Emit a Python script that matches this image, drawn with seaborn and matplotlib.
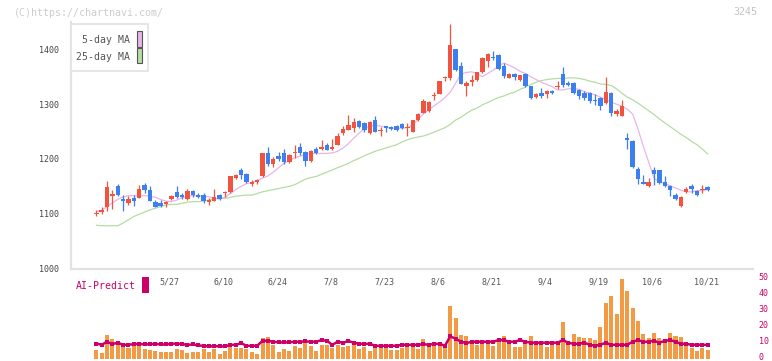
import matplotlib
matplotlib.use("Agg")
import matplotlib.pyplot as plt
import matplotlib.transforms as mtransforms
from matplotlib.patches import Rectangle
import numpy as np
import pandas as pd
import seaborn as sns

# trading days (Tokyo), 2025-05-07 .. 2025-10-21
holidays = ["2025-07-21", "2025-08-11", "2025-09-15", "2025-09-23", "2025-10-13"]
dates = pd.bdate_range("2025-05-07", "2025-10-21")
dates = dates[~dates.isin(pd.to_datetime(holidays))]

opens = [1100, 1104, 1112, 1133, 1151, 1127, 1119, 1128, 1129, 1152,
         1144, 1121, 1120, 1117, 1126, 1139, 1135, 1126, 1142, 1135,
         1135, 1121, 1123, 1135, 1137, 1139, 1165, 1179, 1173, 1155,
         1158, 1169, 1211, 1190, 1205, 1210, 1195, 1211, 1221, 1212,
         1196, 1219, 1219, 1226, 1219, 1226, 1248, 1253, 1257, 1270,
         1266, 1247, 1271, 1251, 1260, 1259, 1260, 1264, 1256, 1250,
         1271, 1284, 1287, 1315, 1319, 1347, 1347, 1400, 1370, 1333,
         1340, 1344, 1358, 1379, 1386, 1390, 1370, 1348, 1355, 1345,
         1355, 1333, 1313, 1320, 1319, 1324, 1332, 1355, 1339, 1339,
         1326, 1320, 1320, 1308, 1312, 1303, 1321, 1282, 1279, 1238,
         1233, 1182, 1157, 1150, 1180, 1179, 1157, 1151, 1135, 1114,
         1139, 1151, 1142, 1143, 1148]
highs = [1107, 1113, 1160, 1144, 1154, 1135, 1132, 1135, 1153, 1156,
         1151, 1125, 1125, 1124, 1135, 1150, 1137, 1146, 1144, 1138,
         1137, 1128, 1146, 1136, 1142, 1169, 1173, 1184, 1175, 1162,
         1164, 1211, 1221, 1204, 1212, 1219, 1209, 1226, 1230, 1215,
         1216, 1222, 1235, 1230, 1236, 1247, 1261, 1280, 1275, 1271,
         1268, 1269, 1279, 1258, 1261, 1261, 1262, 1265, 1265, 1272,
         1283, 1310, 1306, 1322, 1343, 1351, 1446, 1401, 1377, 1342,
         1353, 1359, 1386, 1394, 1397, 1391, 1376, 1357, 1357, 1354,
         1356, 1334, 1320, 1329, 1325, 1326, 1342, 1368, 1343, 1340,
         1327, 1324, 1322, 1318, 1313, 1350, 1322, 1291, 1308, 1248,
         1234, 1185, 1171, 1165, 1185, 1180, 1169, 1152, 1137, 1133,
         1148, 1154, 1143, 1153, 1150]
lows = [1096, 1099, 1105, 1108, 1132, 1105, 1116, 1114, 1129, 1138,
        1124, 1112, 1113, 1112, 1125, 1128, 1126, 1125, 1131, 1129,
        1119, 1116, 1123, 1125, 1131, 1137, 1163, 1163, 1156, 1150,
        1155, 1167, 1188, 1186, 1197, 1191, 1193, 1202, 1208, 1187,
        1195, 1209, 1217, 1217, 1217, 1226, 1243, 1252, 1250, 1256,
        1250, 1246, 1249, 1241, 1250, 1253, 1251, 1254, 1241, 1249,
        1270, 1283, 1285, 1308, 1318, 1342, 1345, 1360, 1336, 1315,
        1333, 1343, 1356, 1367, 1380, 1362, 1347, 1347, 1345, 1343,
        1332, 1310, 1311, 1312, 1312, 1319, 1328, 1332, 1333, 1318,
        1310, 1308, 1302, 1299, 1290, 1300, 1279, 1279, 1279, 1219,
        1183, 1155, 1154, 1149, 1153, 1155, 1149, 1132, 1125, 1112,
        1137, 1137, 1132, 1138, 1141]
closes = [1101, 1106, 1148, 1136, 1135, 1124, 1127, 1123, 1146, 1143,
          1124, 1113, 1115, 1122, 1133, 1130, 1131, 1142, 1135, 1131,
          1124, 1125, 1131, 1126, 1140, 1168, 1171, 1170, 1157, 1158,
          1162, 1210, 1190, 1200, 1200, 1195, 1208, 1213, 1210, 1196,
          1214, 1210, 1221, 1217, 1221, 1241, 1255, 1262, 1268, 1258,
          1253, 1268, 1250, 1253, 1256, 1255, 1252, 1256, 1258, 1271,
          1282, 1306, 1304, 1317, 1342, 1349, 1408, 1362, 1337, 1339,
          1344, 1358, 1385, 1391, 1384, 1364, 1351, 1355, 1349, 1353,
          1333, 1312, 1319, 1315, 1324, 1321, 1334, 1335, 1335, 1320,
          1314, 1311, 1306, 1306, 1296, 1323, 1283, 1288, 1297, 1235,
          1185, 1163, 1155, 1157, 1173, 1156, 1151, 1143, 1126, 1131,
          1146, 1146, 1135, 1146, 1143]
ma5 = [1104, 1106, 1113, 1120, 1126, 1131, 1133, 1133, 1132, 1133,
       1132, 1130, 1126, 1123, 1122, 1125, 1129, 1132, 1133, 1133,
       1132, 1131, 1128, 1127, 1130, 1137, 1144, 1150, 1155, 1157,
       1160, 1165, 1169, 1176, 1184, 1192, 1197, 1202, 1205, 1208,
       1210, 1210, 1210, 1210, 1211, 1214, 1220, 1228, 1238, 1247,
       1255, 1260, 1261, 1260, 1258, 1256, 1256, 1256, 1257, 1262,
       1272, 1282, 1290, 1297, 1304, 1312, 1322, 1338, 1355, 1358,
       1359, 1356, 1350, 1356, 1362, 1370, 1375, 1371, 1366, 1360,
       1356, 1350, 1345, 1340, 1336, 1332, 1326, 1326, 1328, 1329,
       1327, 1323, 1320, 1317, 1313, 1308, 1304, 1300, 1296, 1291,
       1282, 1255, 1223, 1194, 1165, 1158, 1155, 1151, 1147, 1143,
       1140, 1140, 1142, 1142, 1144]
ma25 = [1079, 1078, 1078, 1078, 1078, 1083, 1089, 1095, 1099, 1103,
        1107, 1110, 1113, 1116, 1117, 1117, 1119, 1121, 1122, 1122,
        1123, 1125, 1127, 1128, 1128, 1130, 1132, 1133, 1134, 1134,
        1137, 1140, 1142, 1144, 1146, 1148, 1150, 1153, 1158, 1163,
        1166, 1168, 1172, 1176, 1180, 1184, 1188, 1192, 1197, 1201,
        1206, 1210, 1214, 1217, 1220, 1223, 1226, 1231, 1235, 1238,
        1240, 1242, 1245, 1249, 1253, 1257, 1263, 1271, 1276, 1283,
        1289, 1293, 1299, 1303, 1308, 1312, 1315, 1319, 1322, 1327,
        1331, 1336, 1340, 1343, 1345, 1346, 1347, 1347, 1348, 1348,
        1347, 1345, 1342, 1340, 1337, 1336, 1334, 1328, 1320, 1313,
        1308, 1302, 1295, 1288, 1281, 1273, 1266, 1259, 1252, 1245,
        1239, 1232, 1226, 1218, 1209]
volume = [5.7, 4.0, 15.1, 12.6, 8.8, 10.1, 7.1, 8.8, 8.2, 6.3,
          5.5, 5.0, 4.4, 4.4, 4.4, 6.3, 5.7, 4.0, 4.4, 4.4,
          6.3, 4.4, 6.3, 3.1, 5.0, 10.1, 6.9, 6.9, 6.3, 4.4,
          3.1, 13.2, 13.8, 8.8, 4.4, 6.3, 5.0, 8.2, 6.9, 10.1,
          8.2, 5.0, 8.8, 8.8, 7.1, 8.8, 7.5, 8.2, 10.3, 6.3,
          7.5, 5.0, 8.8, 7.5, 6.9, 5.7, 5.7, 7.1, 7.5, 8.8,
          6.3, 12.6, 8.8, 8.2, 8.2, 7.5, 32.7, 25.2, 15.1, 14.5,
          10.3, 8.8, 11.9, 10.7, 8.2, 11.3, 14.5, 10.1, 7.5, 7.5,
          11.3, 14.5, 10.1, 10.1, 7.5, 8.8, 10.3, 22.8, 8.8, 15.7,
          13.8, 13.2, 13.2, 11.9, 20.1, 35.0, 39.0, 27.9, 49.7, 42.1,
          31.4, 23.3, 15.7, 13.2, 16.4, 13.2, 11.3, 16.4, 14.5, 13.8,
          10.1, 6.9, 5.0, 6.9, 5.7]
ai_predict = [9.6, 8.8, 10.7, 9.2, 10.1, 8.8, 8.8, 9.2, 9.4, 9.0,
              9.2, 9.4, 9.0, 9.0, 9.4, 9.6, 9.2, 8.8, 9.0, 8.4,
              8.2, 7.8, 8.0, 7.8, 7.8, 8.8, 8.8, 9.8, 8.2, 8.2,
              8.2, 11.3, 11.3, 10.7, 10.3, 10.3, 10.3, 10.7, 10.7, 10.9,
              10.7, 10.7, 11.7, 11.3, 8.8, 10.7, 10.1, 11.1, 10.1, 9.4,
              9.4, 9.4, 8.2, 8.2, 8.2, 8.2, 8.2, 8.8, 8.8, 8.8,
              8.8, 9.2, 8.8, 9.4, 9.4, 8.2, 14.0, 12.6, 10.7, 9.8,
              10.7, 10.7, 10.7, 10.7, 10.7, 11.7, 11.7, 10.7, 10.7, 11.7,
              10.7, 10.1, 10.1, 10.1, 10.1, 10.1, 10.1, 11.7, 10.1, 9.4,
              9.4, 10.1, 8.8, 8.2, 8.8, 10.1, 8.8, 8.8, 8.8, 8.8,
              10.7, 11.7, 10.7, 10.7, 11.3, 10.1, 11.3, 11.7, 10.7, 9.4,
              9.4, 8.8, 8.8, 8.8, 8.8]
label_dates = ["2025-05-27", "2025-06-10", "2025-06-24", "2025-07-08", "2025-07-23",
               "2025-08-06", "2025-08-21", "2025-09-04", "2025-09-19", "2025-10-06",
               "2025-10-21"]

df = pd.DataFrame({"open": opens, "high": highs, "low": lows, "close": closes,
                   "ma5": ma5, "ma25": ma25, "volume": volume, "ai": ai_predict})
df["pos"] = np.arange(len(df))

RED = "#f2533f"
BLUE = "#3d7ef0"
MAGENTA = "#cc0066"
AXIS = "#e2e2e2"

sns.set_style("white")
plt.rcParams["font.family"] = ["DejaVu Sans Mono", "DejaVu Sans"]

fig = plt.figure(figsize=(7.72, 3.61), dpi=100)
W, H = 772, 361
xlim = (-4.72, 122.45)
ax = fig.add_axes([71 / W, 1 - 268.5 / H, 682 / W, 246.5 / H])
ax_vol = fig.add_axes([71 / W, 1 - 359 / H, 682 / W, 80.7 / H])

# moving averages
sns.lineplot(data=df, x="pos", y="ma25", ax=ax, color="#b5dca3", lw=0.9, zorder=1)
sns.lineplot(data=df, x="pos", y="ma5", ax=ax, color="#e8b5ea", lw=0.9, zorder=1)

# candles
up = df["close"] >= df["open"]
colors = np.where(up, RED, BLUE)
body_lo = df[["open", "close"]].min(axis=1)
body_h = (df["close"] - df["open"]).abs().clip(lower=1.8)
ax.vlines(df["pos"], df["low"], df["high"], colors=colors, lw=0.9, zorder=2)
ax.bar(df["pos"], body_h, bottom=body_lo, width=0.82, color=colors, lw=0, zorder=3)

ax.set_xlim(*xlim)
ax.set_ylim(1000, 1450)
ax.set_yticks([1000, 1100, 1200, 1300, 1400])
ax.set_xticks(np.linspace(xlim[0], xlim[1], 12)[1:])
ax.set_xticklabels([])
ax.set_xlabel("")
ax.set_ylabel("")
for s in ["top", "right"]:
    ax.spines[s].set_visible(False)
for s in ["left", "bottom"]:
    ax.spines[s].set_color(AXIS)
    ax.spines[s].set_linewidth(1.6)
ax.tick_params(axis="y", direction="inout", length=6, width=1.2, color=AXIS,
               labelsize=6, labelcolor="#444444", pad=5.5)
ax.tick_params(axis="x", direction="inout", length=6, width=1.2, color=AXIS)
ax.set_facecolor("none")

# volume + AI-Predict panel
ax_vol.bar(df["pos"], df["volume"], width=0.75, color="#f39a45", lw=0, zorder=1)
sns.lineplot(data=df, x="pos", y="ai", ax=ax_vol, color=MAGENTA, lw=1.8,
             marker="s", markersize=2.6, markeredgewidth=0, zorder=2)
ax_vol.set_xlim(*xlim)
ax_vol.set_ylim(0, 50)
ax_vol.set_xticks([])
ax_vol.set_xlabel("")
ax_vol.set_ylabel("")
ax_vol.yaxis.tick_right()
ax_vol.set_yticks([0, 10, 20, 30, 40, 50])
ax_vol.tick_params(axis="y", length=0, labelsize=6, labelcolor=MAGENTA, pad=4)
lift = mtransforms.ScaledTranslation(0, 2.2 / 100, fig.dpi_scale_trans)
for lab in ax_vol.get_yticklabels():
    lab.set_transform(lab.get_transform() + lift)
for s in ax_vol.spines.values():
    s.set_visible(False)
ax_vol.set_facecolor("none")

trans = mtransforms.blended_transform_factory(ax_vol.transData, ax_vol.transAxes)
for d in label_dates:
    p = dates.get_loc(pd.Timestamp(d))
    lab = f"{pd.Timestamp(d).month}/{pd.Timestamp(d).day}"
    ax_vol.text(p - 0.3, 0.952, lab, transform=trans, ha="center", va="center",
                fontsize=6, color="#555555")

# legend box
fig.patches.append(Rectangle((70.7 / W, 1 - 71 / H), 77.6 / W, 47 / H, transform=fig.transFigure,
                             facecolor="white", edgecolor=AXIS, lw=1.2, zorder=5))
fig.text(129.5 / W, 1 - 40 / H, "5-day MA", ha="right", va="center", fontsize=7.1,
         color="#555555", zorder=6)
fig.text(129.5 / W, 1 - 56.5 / H, "25-day MA", ha="right", va="center", fontsize=7.1,
         color="#555555", zorder=6)
fig.patches.append(Rectangle((136.7 / W, 1 - 46.7 / H), 5.6 / W, 15.3 / H, transform=fig.transFigure,
                             facecolor="#e8b5ea", edgecolor="#555555", lw=0.8, zorder=6))
fig.patches.append(Rectangle((136.7 / W, 1 - 63.3 / H), 5.6 / W, 15 / H, transform=fig.transFigure,
                             facecolor="#b5dca3", edgecolor="#555555", lw=0.8, zorder=6))

# AI-Predict label
fig.text(75.5 / W, 1 - 285.7 / H, "AI-Predict", ha="left", va="center", fontsize=7.1,
         color=MAGENTA)
fig.patches.append(Rectangle((142 / W, 1 - 292.7 / H), 6.5 / W, 16 / H, transform=fig.transFigure,
                             facecolor=MAGENTA, edgecolor="none"))

# watermark / code
fig.text(14 / W, 1 - 12.5 / H, "(C)https://chartnavi.com/", ha="left", va="center",
         fontsize=7.2, color="#cccccc")
fig.text(757 / W, 1 - 12 / H, "3245", ha="right", va="center", fontsize=7.2, color="#c4c4c4")

fig.savefig("out.png", dpi=100)
